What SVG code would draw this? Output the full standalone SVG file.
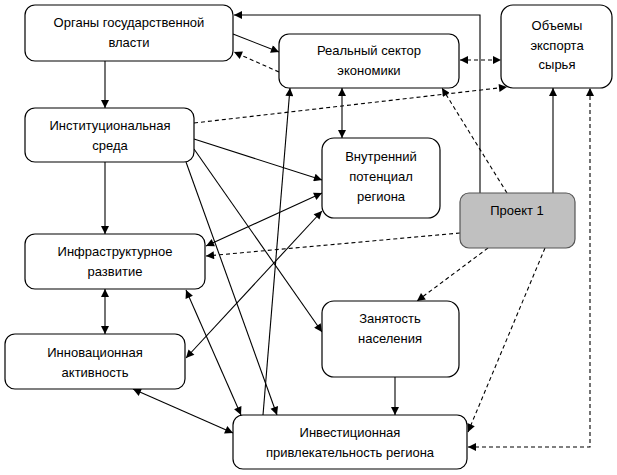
<svg xmlns="http://www.w3.org/2000/svg" width="617" height="475" viewBox="0 0 617 475">
<style>
.box{fill:#fff;stroke:#000;stroke-width:1.2}
.proj{fill:#c0c0c0;stroke:#555;stroke-width:1.2}
text{font-family:"Liberation Sans",Arial,sans-serif;font-size:13px;fill:#000;text-anchor:middle}
.c{fill:none;stroke:#000;stroke-width:1.1}
.d{stroke-dasharray:4,3}
</style>
<defs>
<marker id="ah" viewBox="0 0 10 10" refX="10" refY="5" markerWidth="10" markerHeight="8" markerUnits="userSpaceOnUse" orient="auto-start-reverse"><path d="M0,0 L10,5 L0,10 z" fill="#000"/></marker>
</defs>
<rect width="617" height="475" fill="#fff"/>
<g id="connectors">
<line class="c" x1="105" y1="61" x2="105" y2="108" marker-end="url(#ah)"/>
<line class="c" x1="105" y1="162" x2="105" y2="234" marker-end="url(#ah)"/>
<line class="c" x1="105" y1="289" x2="105" y2="334" marker-start="url(#ah)" marker-end="url(#ah)"/>
<line class="c" x1="233" y1="34" x2="279" y2="52" marker-end="url(#ah)"/>
<line class="c d" x1="279" y1="72" x2="234" y2="52" marker-end="url(#ah)"/>
<polyline class="c" points="480,193 480,15 234,15" marker-end="url(#ah)"/>
<line class="c d" x1="460" y1="60" x2="501" y2="60" marker-start="url(#ah)" marker-end="url(#ah)"/>
<line class="c d" x1="194" y1="123" x2="507" y2="87" marker-end="url(#ah)"/>
<line class="c" x1="342" y1="88" x2="342" y2="138" marker-start="url(#ah)" marker-end="url(#ah)"/>
<line class="c d" x1="507" y1="193" x2="442" y2="88" marker-end="url(#ah)"/>
<line class="c" x1="553" y1="193" x2="553" y2="88" marker-end="url(#ah)"/>
<polyline class="c d" points="468,447 590,447 590,88" marker-start="url(#ah)" marker-end="url(#ah)"/>
<line class="c d" x1="545" y1="248" x2="468" y2="432" marker-end="url(#ah)"/>
<line class="c d" x1="488" y1="248" x2="417" y2="301" marker-end="url(#ah)"/>
<line class="c d" x1="460" y1="233" x2="206" y2="256" marker-end="url(#ah)"/>
<line class="c" x1="395" y1="377" x2="395" y2="415" marker-end="url(#ah)"/>
<line class="c" x1="194" y1="139" x2="322" y2="180" marker-end="url(#ah)"/>
<line class="c" x1="206" y1="246" x2="322" y2="193" marker-start="url(#ah)" marker-end="url(#ah)"/>
<line class="c" x1="186" y1="358" x2="322" y2="211" marker-start="url(#ah)" marker-end="url(#ah)"/>
<line class="c" x1="194" y1="149" x2="322" y2="332" marker-end="url(#ah)"/>
<line class="c" x1="186" y1="162" x2="277" y2="415" marker-end="url(#ah)"/>
<line class="c" x1="186" y1="290" x2="241" y2="415" marker-start="url(#ah)" marker-end="url(#ah)"/>
<line class="c" x1="133" y1="389" x2="233" y2="433" marker-start="url(#ah)" marker-end="url(#ah)"/>
<line class="c" x1="263" y1="415" x2="290" y2="88" marker-end="url(#ah)"/>
</g>
<g id="organy"><rect class="box" x="25" y="5" width="208" height="56" rx="10"/><text x="129" y="27">Органы государственной</text><text x="129" y="47">власти</text></g>
<g id="realny"><rect class="box" x="279" y="34" width="180" height="54" rx="10"/><text x="369" y="55">Реальный сектор</text><text x="369" y="75">экономики</text></g>
<g id="obemy"><rect class="box" x="501" y="5" width="111" height="83" rx="12"/><text x="557" y="30">Объемы</text><text x="557" y="50">экспорта</text><text x="557" y="69">сырья</text></g>
<g id="institut"><rect class="box" x="25" y="108" width="169" height="54" rx="10"/><text x="110" y="130">Институциональная</text><text x="110" y="150">среда</text></g>
<g id="vnutr"><rect class="box" x="322" y="138" width="118" height="80" rx="12"/><text x="381" y="161">Внутренний</text><text x="381" y="181">потенциал</text><text x="381" y="201">региона</text></g>
<g id="proekt"><rect class="proj" x="460" y="193" width="115" height="55" rx="9"/><text x="517" y="215">Проект 1</text></g>
<g id="infra"><rect class="box" x="25" y="234" width="180" height="55" rx="10"/><text x="115" y="256">Инфраструктурное</text><text x="115" y="276">развитие</text></g>
<g id="innov"><rect class="box" x="5" y="334" width="180" height="55" rx="10"/><text x="95" y="357">Инновационная</text><text x="95" y="377">активность</text></g>
<g id="zanyat"><rect class="box" x="322" y="301" width="137" height="76" rx="12"/><text x="390" y="323">Занятость</text><text x="390" y="343">населения</text></g>
<g id="invest"><rect class="box" x="233" y="415" width="234" height="54" rx="10"/><text x="350" y="437">Инвестиционная</text><text x="350" y="457">привлекательность региона</text></g>
</svg>
